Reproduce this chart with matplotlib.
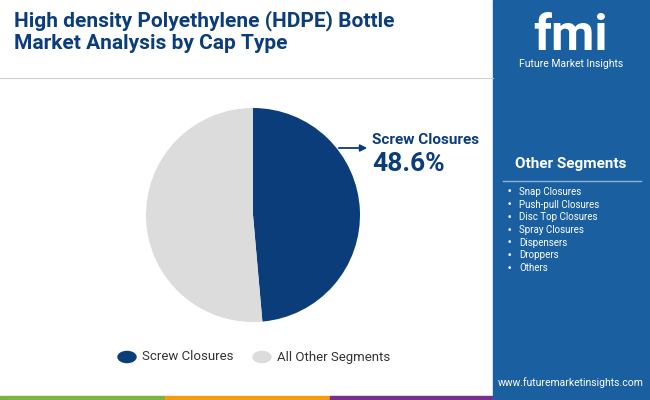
import matplotlib
matplotlib.use("Agg")
import matplotlib.pyplot as plt
from matplotlib.patches import Rectangle

labels = ["Screw Closures", "All Other Segments"]
values = [48.6, 51.4]
colors = ["#0a3d7a", "#dcdcdc"]
other_segments = ["Snap Closures", "Push-pull Closures", "Disc Top Closures",
                  "Spray Closures", "Dispensers", "Droppers", "Others"]

fig = plt.figure(figsize=(6.5, 4), dpi=100)
fig.patch.set_facecolor("white")
W, H = 650, 400
def fx(x): return x / W
def fy(y): return 1 - y / H

fig.patches.append(Rectangle((fx(493), 0), 1 - fx(493), 1, transform=fig.transFigure, color="#1a5fa0", zorder=0))
fig.add_artist(plt.Line2D([0, fx(493)], [fy(78), fy(78)], transform=fig.transFigure, color="#cccccc", lw=0.8))
for x0, x1, c in [(0, 165, "#7cb342"), (165, 330, "#f39c12"), (330, 493, "#7b2d8e"), (493, 650, "#1a5fa0")]:
    fig.patches.append(Rectangle((fx(x0), 0), fx(x1) - fx(x0), 4 / H, transform=fig.transFigure, color=c, zorder=1))

fig.text(fx(14), fy(32), "High density Polyethylene (HDPE) Bottle\nMarket Analysis by Cap Type",
         fontsize=15, fontweight="bold", color="#0a3d7a", va="center", ha="left", family="Roboto", linespacing=1.2)

fig.text(fx(571), fy(36), "fmi", fontsize=36, fontweight="bold", color="white", ha="center", va="center", family="Roboto")
fig.text(fx(571), fy(64), "Future Market Insights", fontsize=7.5, color="white", ha="center", va="center", family="Roboto")

fig.text(fx(571), fy(164), "Other Segments", fontsize=11, fontweight="bold", color="white", ha="center", va="center", family="Roboto")
fig.add_artist(plt.Line2D([fx(503), fx(641)], [fy(181), fy(181)], transform=fig.transFigure, color="#8fb3d9", lw=1))
for i, s in enumerate(other_segments):
    y = fy(192 + i * 12.7)
    fig.text(fx(507), y, "•", fontsize=6.5, color="white", va="center")
    fig.text(fx(519), y, s, fontsize=7, color="white", va="center", family="Roboto")
fig.text(fx(571), fy(383), "www.futuremarketinsights.com", fontsize=7.5, color="white", ha="center", va="center", family="Roboto")

ax = fig.add_axes([fx(146), fy(322), fx(214), 214 / H])
ax.pie(values, colors=colors, startangle=90, counterclock=False, radius=1)
ax.set_xlim(-1, 1)
ax.set_ylim(-1, 1)
ax.set_aspect("equal")
ax.axis("off")

ax.annotate("", xy=(fx(370), fy(148)), xycoords="figure fraction",
            xytext=(fx(336), fy(148)), textcoords="figure fraction",
            arrowprops=dict(arrowstyle="-|>", color="#0a3d7a", lw=1.3))
fig.text(fx(372), fy(140), "Screw Closures", fontsize=11, fontweight="bold", color="#0a3d7a", va="center", family="Roboto")
fig.text(fx(372), fy(164), "48.6%", fontsize=19, fontweight="bold", color="#0a3d7a", va="center", family="Roboto")

for x, lab, c in [(127, labels[0], colors[0]), (262, labels[1], colors[1])]:
    fig.patches.append(plt.Circle((fx(x), fy(357)), 9 / W, transform=fig.transFigure, color=c))
fig.text(fx(142), fy(357), labels[0], fontsize=9.5, color="#333333", va="center", family="Roboto")
fig.text(fx(277), fy(357), labels[1], fontsize=9.5, color="#333333", va="center", family="Roboto")

fig.savefig("out.png", dpi=100)
